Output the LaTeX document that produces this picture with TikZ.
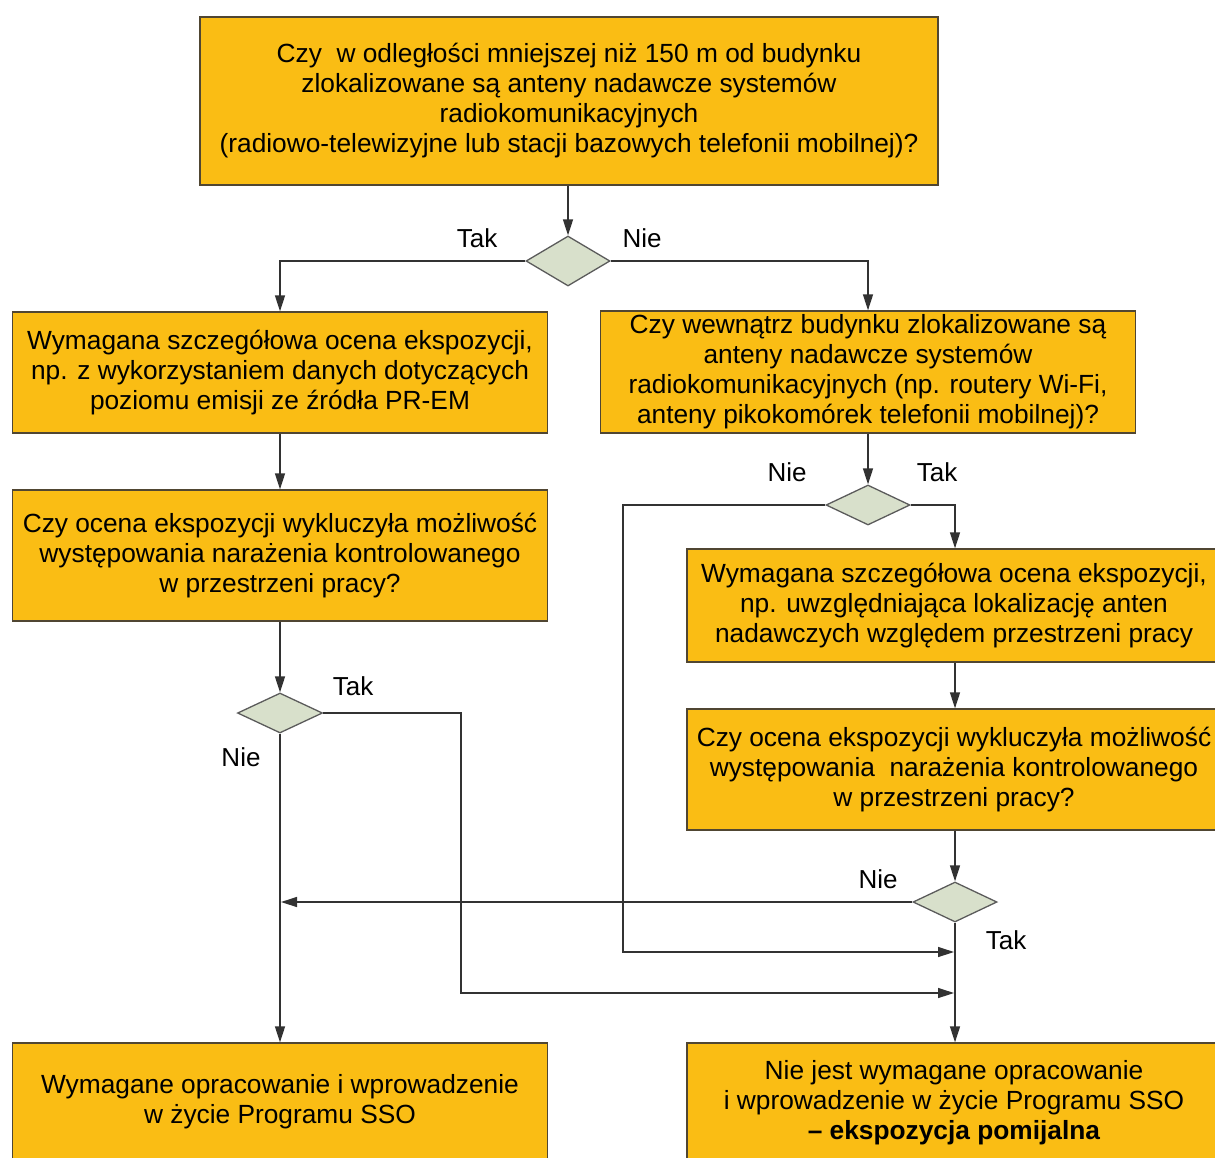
\documentclass[tikz,border=0pt]{standalone}
\usepackage{fontspec}
\setmainfont{Liberation Sans}
\usetikzlibrary{shapes.geometric,arrows.meta}
\definecolor{boxcol}{RGB}{250,189,20}
\definecolor{diacol}{RGB}{216,224,203}
\definecolor{linecol}{RGB}{50,50,50}
\definecolor{bordcol}{RGB}{80,70,50}
\tikzset{
  box/.style={draw=bordcol, fill=boxcol, line width=1.3pt, align=center, inner sep=0pt,
              font=\fontsize{26.3}{30}\selectfont},
  dia/.style={diamond, draw=linecol!80, fill=diacol, line width=1.3pt, inner sep=0pt},
  lab/.style={font=\fontsize{26}{30}\selectfont, inner sep=0pt},
  conn/.style={draw=linecol, line width=1.3pt},
  arr/.style={conn, -{Triangle[length=16pt,width=10pt]}}
}
\begin{document}
\begin{tikzpicture}[x=1pt,y=-1pt]
\useasboundingbox (0,0) rectangle (1215,1157);
\clip (0,0) rectangle (1215,1157);
\fill[white] (0,0) rectangle (1215,1157);

% boxes
\node[box, minimum width=738pt, minimum height=168pt] (top) at (569,101)
  {Czy \ w odległości mniejszej niż 150 m od budynku\\zlokalizowane są anteny nadawcze systemów\\radiokomunikacyjnych\\(radiowo-telewizyjne lub stacji bazowych telefonii mobilnej)?};
\node[box, minimum width=535pt, minimum height=121pt] (L1) at (280,372.5)
  {Wymagana szczegółowa ocena ekspozycji,\\np. z wykorzystaniem danych dotyczących\\poziomu emisji ze źródła PR-EM};
\node[box, minimum width=535pt, minimum height=122pt] (R1) at (868,372)
  {Czy wewnątrz budynku zlokalizowane są\\anteny nadawcze systemów\\radiokomunikacyjnych (np. routery Wi-Fi,\\anteny pikokomórek telefonii mobilnej)?};
\node[box, minimum width=535pt, minimum height=131pt] (L2) at (280,555.5)
  {Czy ocena ekspozycji wykluczyła możliwość\\występowania narażenia kontrolowanego\\w przestrzeni pracy?};
\node[box, minimum width=534pt, minimum height=113pt] (R2) at (954,605.5)
  {Wymagana szczegółowa ocena ekspozycji,\\np. uwzględniająca lokalizację anten\\nadawczych względem przestrzeni pracy};
\node[box, minimum width=534pt, minimum height=121pt] (R3) at (954,769.5)
  {Czy ocena ekspozycji wykluczyła możliwość\\występowania \ narażenia kontrolowanego\\w przestrzeni pracy?};
\node[box, minimum width=535pt, minimum height=117pt] (L3) at (280,1101.5)
  {Wymagane opracowanie i wprowadzenie\\w życie Programu SSO};
\node[box, minimum width=534pt, minimum height=120pt] (R4) at (954,1103)
  {Nie jest wymagane opracowanie\\i wprowadzenie w życie Programu SSO\\\textbf{– ekspozycja pomijalna}};

% diamonds
\node[dia, minimum width=84pt, minimum height=50pt] (d1) at (568,261) {};
\node[dia, minimum width=84pt, minimum height=40pt] (d2) at (868,505) {};
\node[dia, minimum width=85pt, minimum height=40pt] (d3) at (280,713) {};
\node[dia, minimum width=84pt, minimum height=40pt] (d4) at (955,902) {};

% labels
\node[lab] (t1) at (477,238) {Tak};
\node[lab] (n1) at (642,238) {Nie};
\node[lab] (n2) at (787,472) {Nie};
\node[lab] (t2) at (937,472) {Tak};
\node[lab] (t3) at (353,686) {Tak};
\node[lab] (n3) at (241,757) {Nie};
\node[lab] (n4) at (878,879) {Nie};
\node[lab] (t4) at (1006,940) {Tak};

% helper coordinates
\coordinate (c2) at (623,952);
\coordinate (e2) at (954,952);
\coordinate (c3) at (461,993);
\coordinate (e3) at (954,993);
\coordinate (e4) at (281,902);

% connectors
\draw[arr] (top.south -| d1.north) -- (d1.north);
\draw[arr] (d1.west) -| (L1.north);
\draw[arr] (d1.east) -| (R1.north);
\draw[arr] (L1.south) -- (L2.north);
\draw[arr] (R1.south) -- (d2.north);
\draw[arr] (d2.east) -| ([xshift=1pt]R2.north);
\draw[arr] (d2.west) -| (c2) -- (e2);
\draw[arr] (R2.south -| d4.north) -- (R3.north -| d4.north);
\draw[arr] (R3.south -| d4.north) -- (d4.north);
\draw[arr] (d4.south) -- (d4.south |- R4.north);
\draw[arr] (d4.west) -- (e4);
\draw[arr] (L2.south) -- (d3.north);
\draw[arr] (d3.south) -- (L3.north);
\draw[arr] (d3.east) -| (c3) -- (e3);
\end{tikzpicture}
\end{document}
